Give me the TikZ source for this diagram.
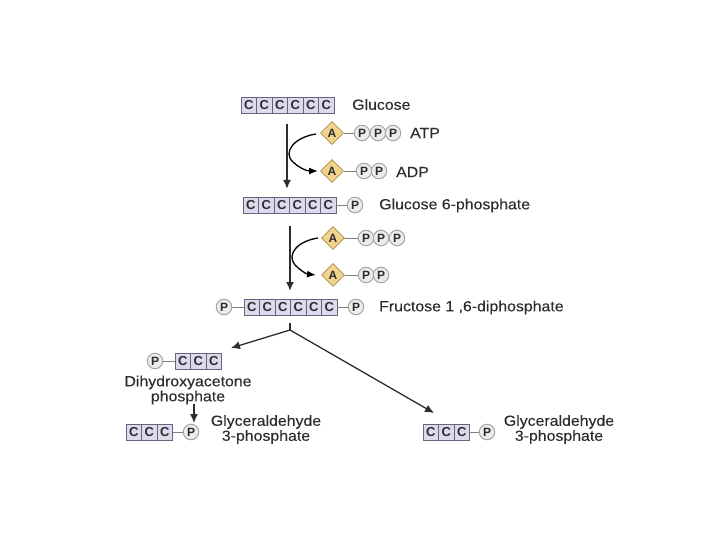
\documentclass[tikz,border=0pt]{standalone}
\usepackage{fontspec}
\setmainfont{Liberation Sans}
\newfontfamily\tagfont[FakeStretch=1.08, FakeBold=0.25]{Liberation Sans}
\usetikzlibrary{shapes.geometric, arrows.meta}
\definecolor{cellfill}{RGB}{222,218,238}
\definecolor{celledge}{RGB}{105,100,125}
\definecolor{goldfill}{RGB}{240,212,140}
\definecolor{goldedge}{RGB}{170,140,80}
\definecolor{ink}{RGB}{45,45,45}

\begin{document}
\begin{tikzpicture}[x=1pt, y=-1pt]

    \tikzset{carbon/.style={draw=celledge, fill=cellfill, minimum width=15.5pt, minimum height=16pt, inner sep=0pt, font=\fontsize{13}{13}\selectfont\bfseries, text=ink}}
    \tikzset{phos/.style={circle, draw=gray!70, fill=gray!15, line width=1pt, minimum size=15.5pt, inner sep=0pt, font=\fontsize{12}{12}\selectfont\bfseries, text=ink}}
    \tikzset{adenine/.style={diamond, draw=goldedge, fill=goldfill, line width=0.8pt, minimum size=23pt, inner sep=0pt, font=\fontsize{12}{12}\selectfont\bfseries, text=ink}}
    \tikzset{caption/.style={font=\fontsize{14.7}{15}\tagfont, text=ink, align=center, inner sep=0pt}}
    \tikzset{link/.style={draw=gray, line width=0.8pt}}
    \tikzset{flow/.style={-{Latex[length=9pt,width=8pt]}, ink, line width=1.7pt}}
    \tikzset{swing/.style={-{Latex[length=9pt,width=7pt]}, black, line width=1.3pt}}

    \useasboundingbox (0,0) rectangle (720,540);

    % Carbon chains
    \foreach \i in {0,...,5} {
        \node[carbon] (glu\i) at ({248.8+\i*15.5},105) {C};
        \node[carbon] (gsp\i) at ({250.8+\i*15.5},205) {C};
        \node[carbon] (fru\i) at ({251.8+\i*15.5},307) {C};
    }
    \foreach \i in {0,1,2} {
        \node[carbon] (dha\i) at ({182.8+\i*15.5},361) {C};
        \node[carbon] (gal\i) at ({133.8+\i*15.5},432) {C};
        \node[carbon] (gar\i) at ({430.8+\i*15.5},432) {C};
    }

    % ATP and ADP
    \node[adenine] (atpa) at (332,133) {A};
    \node[phos] (atp1) at (362,133) {P};
    \node[phos] (atp2) at (378,133) {P};
    \node[phos] (atp3) at (393,133) {P};
    \node[adenine] (adpa) at (332,171) {A};
    \node[phos] (adp1) at (364,171) {P};
    \node[phos] (adp2) at (379,171) {P};
    \draw[link] (atpa) -- (atp1);
    \draw[link] (adpa) -- (adp1);

    \node[adenine] (atpb) at (333,238) {A};
    \node[phos] (atq1) at (366,238) {P};
    \node[phos] (atq2) at (381,238) {P};
    \node[phos] (atq3) at (397,238) {P};
    \node[adenine] (adpb) at (333,275) {A};
    \node[phos] (adq1) at (366,275) {P};
    \node[phos] (adq2) at (381,275) {P};
    \draw[link] (atpb) -- (atq1);
    \draw[link] (adpb) -- (adq1);

    % Phosphates on the chains
    \node[phos] (gspp) at (355,205) {P};
    \node[phos] (frul) at (224,307) {P};
    \node[phos] (frur) at (356,307) {P};
    \node[phos] (dhap) at (155,361) {P};
    \node[phos] (galp) at (191,432) {P};
    \node[phos] (garp) at (487,432) {P};
    \draw[link] (gsp5) -- (gspp);
    \draw[link] (frul) -- (fru0);
    \draw[link] (fru5) -- (frur);
    \draw[link] (dhap) -- (dha0);
    \draw[link] (gal2) -- (galp);
    \draw[link] (gar2) -- (garp);

    % Labels
    \node[caption, anchor=west] (tglu) at (352,104.5) {Glucose};
    \node[caption, anchor=west] (tatp) at (410,133) {ATP};
    \node[caption, anchor=west] (tadp) at (396,172) {ADP};
    \node[caption, anchor=west] (tgsp) at (379,205.5) {Glucose 6-phosphate};
    \node[caption, anchor=west] (tfru) at (379,307.5) {Fructose 1 ,6-diphosphate};
    \node[caption] (tdha) at (188,390) {Dihydroxyacetone\\phosphate};
    \node[caption] (tgal) at (266,429.5) {Glyceraldehyde\\3-phosphate};
    \node[caption] (tgar) at (559,429.5) {Glyceraldehyde\\3-phosphate};

    % Free ends
    \coordinate (s1) at (287,124);
    \coordinate (e1) at (287,189);
    \coordinate (s2) at (290,226);
    \coordinate (e2) at (290,291);
    \coordinate (s3) at (290,323);
    \coordinate (fork) at (290,330);
    \coordinate (e3) at (231,348);
    \coordinate (e4) at (434,413);
    \coordinate (s5) at (194,404);
    \coordinate (e5) at (194,423);
    \coordinate (c1) at (316,134);
    \coordinate (d1) at (318,171);
    \coordinate (c2) at (318,238);
    \coordinate (d2) at (316,275);

    % Pathway arrows
    \draw[flow] (s1) -- (e1);
    \draw[flow] (s2) -- (e2);
    \draw[flow, line width=1.3pt] (s5) -- (e5);
    \draw[ink, line width=1.3pt] (s3) -- (fork);
    \draw[flow, line width=1.3pt] (fork) -- (e3);
    \draw[flow, line width=1.3pt] (fork) -- (e4);

    \draw[swing] (c1) .. controls (295,137) and (282,152) .. (293,162) .. controls (298,167) and (306,171) .. (d1);
    \draw[swing] (c2) .. controls (298,241) and (286,254) .. (295,265) .. controls (300,270) and (306,274) .. (d2);

\end{tikzpicture}
\end{document}
